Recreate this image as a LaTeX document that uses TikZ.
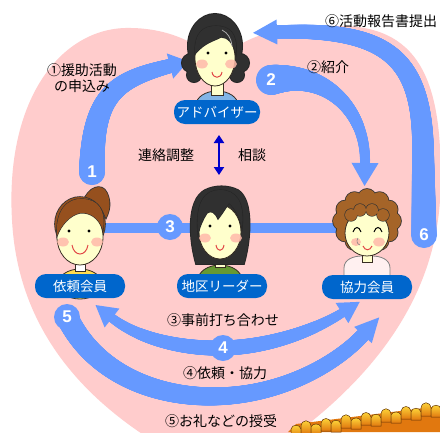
\documentclass[tikz,border=0pt]{standalone}
\usepackage{fontspec}
\setmainfont{Noto Sans CJK JP}
\newfontfamily\numfont{Liberation Sans}
\usetikzlibrary{decorations.markings,arrows.meta,calc}

\definecolor{heartpink}{RGB}{255,204,204}
\definecolor{arrowblue}{RGB}{102,153,255}
\definecolor{labelblue}{RGB}{0,102,204}
\definecolor{deepblue}{RGB}{0,0,204}
\definecolor{skin}{RGB}{255,255,204}
\definecolor{outline}{RGB}{55,45,35}
\definecolor{darkhair}{RGB}{48,48,48}
\definecolor{brownhair}{RGB}{150,80,30}
\definecolor{curlhair}{RGB}{165,100,40}
\definecolor{cheek}{RGB}{255,185,170}
\definecolor{lip}{RGB}{225,70,70}
\definecolor{shirtblue}{RGB}{130,180,230}
\definecolor{shirtyellow}{RGB}{255,220,80}
\definecolor{shirtgreen}{RGB}{102,153,51}
\definecolor{shirtpink}{RGB}{255,240,240}
\definecolor{leafyellow}{RGB}{255,220,60}
\definecolor{leaforange}{RGB}{225,120,15}

\tikzset{
  % tapered band: start width #1, end width #2, taper profile #3 (in \bandt)
  bandbody/.style n args={3}{postaction={decoration={markings,
      mark=between positions 0 and 1 step 0.5pt with {%
        \pgfmathsetmacro\bandt{\pgfkeysvalueof{/pgf/decoration/mark info/distance from start}/\pgfdecoratedpathlength}%
        \pgfmathsetmacro\bandr{0.5*(#2+(#1-#2)*(#3))}%
        \fill[arrowblue] (0pt,0pt) circle[radius=\bandr pt];}}, decorate}},
  % triangular heads: half width #1, length #2
  headend/.style 2 args={postaction={decoration={markings,
      mark=at position 0.9999 with {\fill[arrowblue] (0pt,-#1pt) -- (#2pt,0pt) -- (0pt,#1pt) -- cycle;}}, decorate}},
  headstart/.style 2 args={postaction={decoration={markings,
      mark=at position 0.0001 with {\fill[arrowblue] (0pt,-#1pt) -- (-#2pt,0pt) -- (0pt,#1pt) -- cycle;}}, decorate}},
  numc/.style={circle, fill=arrowblue, minimum size=26pt, inner sep=0pt, text=white,
    font=\numfont\bfseries\fontsize{17}{17}\selectfont},
  lab/.style={fill=labelblue, rounded corners=11pt, text=white, minimum width=90pt,
    minimum height=24pt, inner sep=0pt, font=\fontsize{13.5}{14}\selectfont},
  txt/.style={font=\fontsize{14}{16}\selectfont, inner sep=0pt, align=center},
  facepart/.style={fill=skin, draw=outline, line width=0.8pt},
  eye/.style={fill=black},
  blush/.style={fill=cheek, opacity=0.85},
  mouth/.style={draw=lip, line width=1pt},
}

\begin{document}
\begin{tikzpicture}[x=1pt,y=-1pt]
\useasboundingbox (0,0) rectangle (440,432);
\clip (0,0) rectangle (440,432);
\fill[white] (0,0) rectangle (440,432);

% heart background
\fill[heartpink] (225,480) .. controls (140,440) and (20,370) .. (12,220)
  .. controls (5,100) and (60,30) .. (125,28)
  .. controls (170,27) and (200,45) .. (218,62)
  .. controls (245,35) and (275,27) .. (330,26)
  .. controls (420,22) and (445,80) .. (440,200)
  .. controls (432,330) and (330,420) .. (225,480) -- cycle;

% autumn foliage along the bottom right
\fill[leaforange] (288,432) -- (296,424) -- (440,406) -- (440,432) -- cycle;
\foreach \x/\y/\h in {296/429/5,306/426/7,316/427/4,326/423/6,336/424/5,346/420/7,356/421/4,366/417/6,376/418/5,386/414/7,396/415/4,406/411/6,416/412/5,426/408/7,436/409/5}{
  \shade[top color=leafyellow, bottom color=leaforange, draw=black!55!leaforange, line width=0.5pt]
    (\x-5,\y+8) -- (\x-5,\y) .. controls (\x-4,\y-\h) and (\x+4,\y-\h) .. (\x+5,\y) -- (\x+5,\y+8) -- cycle;
}

% anchor points of the connectors
\coordinate (a1s) at (92,172);  \coordinate (a1e) at (170,66);
\coordinate (a2s) at (271,80);  \coordinate (a2e) at (365,163);
\coordinate (a6s) at (424,235); \coordinate (a6m) at (423,150); \coordinate (a6e) at (277,32);
\coordinate (a5s) at (67,317);  \coordinate (a5m) at (225,396); \coordinate (a5e) at (363,335);
\coordinate (a4s) at (112,318); \coordinate (a4m) at (223,348); \coordinate (a4e) at (342,313);
\coordinate (p3a) at (97,228);  \coordinate (p3b) at (345,228);

% 3: straight link between the members
\draw[arrowblue, line width=10pt] (p3a) -- (p3b);

% 1: application
\path[bandbody={26}{14}{1-\bandt}, headend={13}{19}]
  (a1s) .. controls (92,95) and (115,80) .. (a1e);
% 2: introduction
\path[bandbody={30}{10}{(1-\bandt)*(1-\bandt)}, headend={13.5}{23}]
  (a2s) .. controls (325,70) and (366,110) .. (a2e);
% 6: activity report
\path[bandbody={25}{13}{1-\bandt}, headend={12.5}{24}]
  (a6s) -- (a6m) .. controls (422,60) and (390,28) .. (a6e);
% 5: thanks
\path[bandbody={22}{14}{1-\bandt}, headend={12}{24}]
  (a5s) .. controls (95,375) and (160,400) .. (a5m)
        .. controls (290,392) and (340,360) .. (a5e);
% 4: request and cooperation
\path[bandbody={9}{15}{1-sin(180*\bandt)}, headend={12}{21}, headstart={12}{21}]
  (a4s) .. controls (140,340) and (185,349) .. (a4m)
        .. controls (270,347) and (315,330) .. (a4e);

% numbered badges
\node[numc] (n1) at (a1s) {1};
\node[numc] (n2) at (a2s) {2};
\node[numc] (n3) at (170,227) {3};
\node[numc] (n4) at (a4m) {4};
\node[numc] (n5) at (a5s) {5};
\node[numc] (n6) at (a6s) {6};

% ---- adviser ----
\filldraw[fill=shirtblue, draw=outline, line width=0.8pt] (217,105) ellipse[x radius=21pt, y radius=14pt];
\filldraw[facepart] (211,80) rectangle (223,95);
\fill[darkhair, preaction={draw=black!85, line width=2pt}]
  (215,46) ellipse[x radius=27pt, y radius=32pt]
  (191,63) circle[radius=9pt] (240,63) circle[radius=9pt]
  (194,75) circle[radius=7pt] (237,75) circle[radius=7pt];
\filldraw[facepart] (215,58) ellipse[x radius=20pt, y radius=28pt];
\fill[darkhair, preaction={draw=black!85, line width=1.2pt}]
  (195,54) .. controls (194,32) and (204,26) .. (216,26)
  .. controls (229,26) and (238,33) .. (236,54)
  .. controls (233,43) and (228,37) .. (221,37)
  .. controls (214,41) and (205,42) .. (195,54) -- cycle;
\draw[white!60!darkhair, line width=0.8pt] (222,30) .. controls (228,33) and (231,38) .. (232,46);
\fill[eye] (208,53) circle[radius=1.7pt] (226,53) circle[radius=1.7pt];
\fill[blush] (202,64) ellipse[x radius=6pt, y radius=4.5pt] (231,64) ellipse[x radius=6pt, y radius=4.5pt];
\draw[mouth] (212,72) .. controls (213,79) and (221,79) .. (222,72);

% ---- requesting member ----
\filldraw[fill=shirtyellow, draw=outline, line width=0.8pt] (80,284) ellipse[x radius=22pt, y radius=15pt];
\filldraw[fill=white, draw=outline, line width=0.8pt] (75,258) rectangle (85,271);
\fill[brownhair, preaction={draw=black!80, line width=1.6pt}]
  (83,202) .. controls (88,187) and (102,182) .. (107,193)
  .. controls (111,202) and (110,210) .. (106,218)
  .. controls (102,208) and (95,203) .. (83,202) -- cycle;
\fill[brownhair, preaction={draw=black!80, line width=1.6pt}] (80,224) ellipse[x radius=25pt, y radius=27pt];
\filldraw[facepart] (80,237) ellipse[x radius=23pt, y radius=28pt];
\fill[brownhair, preaction={draw=black!80, line width=1.2pt}]
  (57,236) .. controls (55,210) and (68,198) .. (82,199)
  .. controls (98,199) and (106,210) .. (103,230)
  .. controls (99,218) and (90,212) .. (80,213)
  .. controls (70,215) and (61,225) .. (57,236) -- cycle;
\fill[eye] (69,231) circle[radius=1.7pt] (89,231) circle[radius=1.7pt];
\fill[blush] (63,242) ellipse[x radius=6pt, y radius=4.5pt] (97,242) ellipse[x radius=6pt, y radius=4.5pt];
\draw[mouth] (72,245) .. controls (74,257) and (86,257) .. (88,245);

% ---- district leader ----
\filldraw[fill=shirtgreen, draw=outline, line width=0.8pt] (220,280) ellipse[x radius=22pt, y radius=15pt];
\filldraw[facepart] (215,254) rectangle (225,267);
\fill[darkhair, preaction={draw=black!85, line width=1.6pt}]
  (196,264) .. controls (189,240) and (186,200) .. (205,190)
  .. controls (215,185) and (228,185) .. (238,190)
  .. controls (254,200) and (251,240) .. (244,264) -- cycle;
\filldraw[facepart] (220,232) ellipse[x radius=21pt, y radius=27pt];
\fill[darkhair, preaction={draw=black!85, line width=1.2pt}]
  (198,234) .. controls (195,202) and (205,190) .. (220,190)
  .. controls (236,190) and (245,202) .. (242,228)
  .. controls (239,216) and (235,208) .. (229,203)
  .. controls (225,209) and (222,214) .. (218,219)
  .. controls (215,212) and (211,210) .. (207,213)
  .. controls (203,219) and (200,226) .. (198,234) -- cycle;
\fill[eye] (210,226) circle[radius=1.7pt] (230,226) circle[radius=1.7pt];
\fill[blush] (205,238) ellipse[x radius=6pt, y radius=4.5pt] (236,238) ellipse[x radius=6pt, y radius=4.5pt];
\draw[mouth] (216,245) .. controls (217,252) and (223,252) .. (224,245);

% ---- cooperating member ----
\filldraw[fill=shirtpink, draw=gray, line width=0.8pt]
  (344,280) -- (344,268) .. controls (344,259) and (354,256) .. (362,256)
  -- (372,256) .. controls (380,256) and (390,259) .. (390,268) -- (390,280);
\filldraw[facepart] (362,252) rectangle (372,262);
\fill[curlhair, preaction={draw=black!80, line width=1.6pt}, shift={(367,221)}]
  (0,0) ellipse[x radius=25pt, y radius=23pt]
  foreach \a in {0,30,...,330} { (\a:25 and 23) circle[radius=9pt] };
\filldraw[facepart] (367,233) ellipse[x radius=22pt, y radius=23pt];
\fill[curlhair, preaction={draw=black!80, line width=1.2pt}]
  (351,215) circle[radius=6pt] (360,210) circle[radius=6pt]
  (372,210) circle[radius=6pt] (383,215) circle[radius=6pt];
\draw[line width=1pt] (353,232) .. controls (355,226) and (359,226) .. (361,232);
\draw[line width=1pt] (374,232) .. controls (376,226) and (380,226) .. (382,232);
\fill[blush] (356,242) ellipse[x radius=5pt, y radius=4pt] (379,242) ellipse[x radius=6pt, y radius=4.5pt];
\draw[gray, line width=0.6pt] (358,238) .. controls (356,241) and (357,244) .. (360,245);
\draw[mouth] (363,246) .. controls (365,251) and (370,251) .. (372,246);

% role labels
\node[lab, minimum width=86pt] (adv) at (217,112) {アドバイザー};
\node[lab] (req) at (80,286) {依頼会員};
\node[lab] (ldr) at (222,286) {地区リーダー};
\node[lab] (coop) at (367,287) {協力会員};

% coordination arrow between adviser and leader
\coordinate (dbt) at (219,135);
\coordinate (dbb) at (219,175);
\draw[deepblue, line width=2.5pt, {Triangle[width=10pt,length=8pt]}-{Triangle[width=10pt,length=8pt]}] (dbt) -- (dbb);

% step captions
\node[txt] (t1) at (82,78.5) {①援助活動\\の申込み};
\node[txt] (t2) at (328,67) {②紹介};
\node[txt] (t6) at (381,21) {⑥活動報告書提出};
\node[txt] (tl) at (166,155) {連絡調整};
\node[txt] (tr) at (252,155) {相談};
\node[txt] (t3) at (223,320) {③事前打ち合わせ};
\node[txt] (t4) at (225,373) {④依頼・協力};
\node[txt] (t5) at (221,421) {⑤お礼などの授受};
\end{tikzpicture}
\end{document}
